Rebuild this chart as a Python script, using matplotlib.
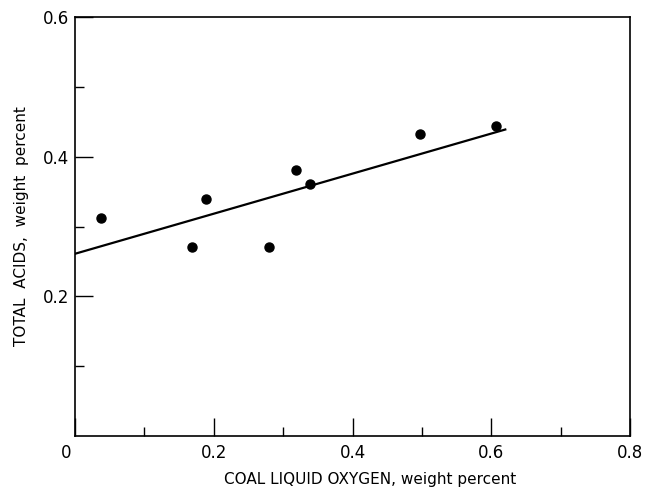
import matplotlib
matplotlib.use("Agg")
import matplotlib.pyplot as plt
import matplotlib.transforms as mtransforms
import numpy as np

# Measured samples
oxygen = [0.038, 0.168, 0.188, 0.279, 0.319, 0.339, 0.497, 0.607]
acids = [0.312, 0.270, 0.340, 0.271, 0.381, 0.361, 0.432, 0.444]

# Fitted straight line: intercept, slope and extent
fit_intercept = 0.261
fit_slope = 0.287
fit_range = [0.0, 0.62]

x_major = [0, 0.2, 0.4, 0.6, 0.8]
x_major_labels = ["0", "0.2", "0.4", "0.6", "0.8"]
x_minor = [0.1, 0.3, 0.5, 0.7]
y_major = [0.2, 0.4, 0.6]
y_major_labels = ["0.2", "0.4", "0.6"]
y_minor = [0.1, 0.3, 0.5]

plt.rcParams["font.family"] = ["DejaVu Sans"]

fig = plt.figure(figsize=(6.47, 4.87), dpi=100)
ax = fig.add_axes([0.116, 0.1047, 0.858, 0.8603])

ax.plot(oxygen, acids, "o", color="black", markersize=6.5, zorder=3)
xs = np.array(fit_range)
ax.plot(xs, fit_intercept + fit_slope * xs, color="black", linewidth=1.6, zorder=2)

ax.set_xlim(0, 0.8)
ax.set_ylim(0, 0.6)

ax.set_xticks(x_major)
ax.set_xticklabels(x_major_labels)
ax.set_xticks(x_minor, minor=True)
ax.set_yticks(y_major)
ax.set_yticklabels(y_major_labels)
ax.set_yticks(y_minor, minor=True)

ax.tick_params(which="both", direction="in", top=False, right=False,
               width=1.0, color="black", labelsize=12)
ax.tick_params(which="major", length=13, pad=6)
ax.tick_params(which="minor", length=6.5)
ax.tick_params(axis="y", which="major", pad=4)

for s in ax.spines.values():
    s.set_linewidth(1.2)

# nudge the origin label left of the corner
lbl0 = ax.get_xticklabels()[0]
lbl0.set_transform(lbl0.get_transform() +
                   mtransforms.ScaledTranslation(-9 / 100, 0, fig.dpi_scale_trans))

ax.set_xlabel("COAL LIQUID OXYGEN, weight percent", fontsize=11, labelpad=8)
ax.xaxis.set_label_coords(0.532, -0.085)
ax.set_ylabel("TOTAL  ACIDS,  weight  percent", fontsize=11, labelpad=10)

fig.savefig("out.png", dpi=100)
